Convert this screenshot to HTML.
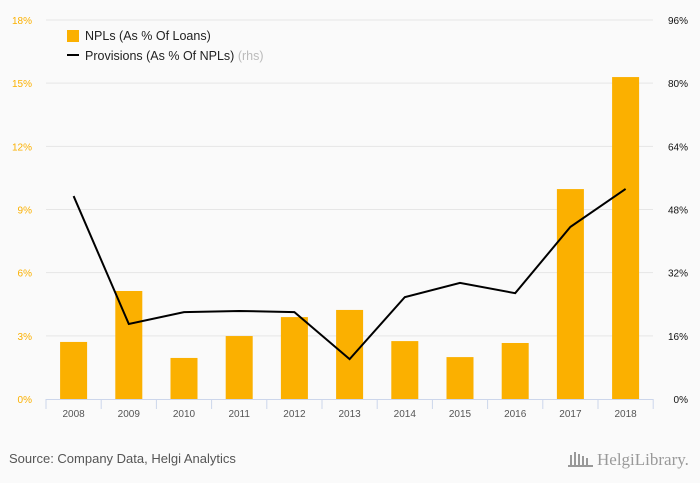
<!DOCTYPE html>
<html><head><meta charset="utf-8"><style>
body{margin:0;background:#fafafa;font-family:"Liberation Sans",sans-serif;}
svg{display:block}
</style></head><body>
<svg id="chart" width="700" height="483" viewBox="0 0 700 483">
<rect width="700" height="483" fill="#fafafa"/>
<g id="grid"></g><g id="bars"></g><g id="axes"></g><g id="line"></g>
<g>
<rect x="67" y="30" width="12" height="12" fill="#fbb000"/>
<text x="85" y="40" font-size="12.5" fill="#222">NPLs (As % Of Loans)</text>
<rect x="67" y="54" width="12" height="2" fill="#000"/>
<text x="85" y="60" font-size="12.5" fill="#222">Provisions (As % Of NPLs) <tspan fill="#bbb">(rhs)</tspan></text>
</g>
<text x="9" y="463" font-size="13" fill="#555">Source: Company Data, Helgi Analytics</text>
<text x="597" y="465" font-size="17" fill="#999" font-family="Liberation Serif,serif">HelgiLibrary.</text>
<g fill="#999"><rect x="570" y="455" width="2" height="12"/><rect x="574" y="452" width="2" height="15"/><rect x="578" y="454" width="2" height="13"/><rect x="582" y="456" width="2" height="11"/><rect x="586" y="458" width="2" height="9"/><rect x="568" y="465" width="25" height="2"/></g>
</svg>
<script>
const categories=["2008","2009","2010","2011","2012","2013","2014","2015","2016","2017","2018"];
const npls=[2.71,5.13,1.95,2.99,3.89,4.23,2.75,1.99,2.66,9.97,15.29];
const provisions=[51.4,19.0,22.0,22.3,22.0,10.1,25.8,29.4,26.8,43.6,53.2];
const leftTicks=[0,3,6,9,12,15,18];
const rightTicks=[0,16,32,48,64,80,96];
const NS="http://www.w3.org/2000/svg";
const x0=46,band=55.2,y0=399,yTop=20;
const yL=v=>y0-(v/18)*(y0-yTop);
const yR=v=>y0-(v/96)*(y0-yTop);
const xC=i=>x0+band*(i+0.5);
function mk(t,a,p){const e=document.createElementNS(NS,t);for(const k in a)e.setAttribute(k,a[k]);p.appendChild(e);return e;}
const grid=document.getElementById('grid'),bars=document.getElementById('bars'),axes=document.getElementById('axes'),line=document.getElementById('line');
leftTicks.forEach((t,i)=>{
  if(t>0){const g=mk('line',{x1:x0,x2:653,y1:yL(t),y2:yL(t),stroke:'#e6e6e6','stroke-width':1},grid);
  
  }
  const l=mk('text',{x:32,y:yL(t)+4,'font-size':10,fill:'#fbb000','text-anchor':'end'},axes);l.textContent=t+'%';
  
  
});
rightTicks.forEach(t=>{
  const l=mk('text',{x:688,y:yR(t)+4,'font-size':10,fill:'#111','text-anchor':'end'},axes);l.textContent=t+'%';
  
  
});
npls.forEach((v,i)=>{
  const r=mk('rect',{x:xC(i)-13.5,y:yL(v),width:27,height:y0-yL(v),fill:'#fbb000'},bars);
  
  
});
const ax=mk('line',{x1:x0,x2:653,y1:y0+0.5,y2:y0+0.5,stroke:'#ccd6eb'},axes);


for(let i=0;i<=categories.length;i++){
  const tk=mk('line',{x1:x0+band*i,x2:x0+band*i,y1:y0,y2:y0+10,stroke:'#ccd6eb'},axes);
  
  
}
categories.forEach((c,i)=>{
  const l=mk('text',{x:xC(i),y:y0+18,'font-size':10,fill:'#555','text-anchor':'middle'},axes);l.textContent=c;
  
  
});
const pl=mk('polyline',{points:provisions.map((v,i)=>xC(i)+','+yR(v)).join(' '),fill:'none',stroke:'#000','stroke-width':2},line);


</script>
</body></html>
